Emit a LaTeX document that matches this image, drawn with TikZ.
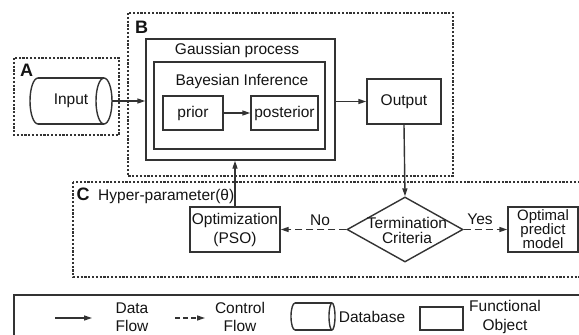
\documentclass[tikz,border=0pt]{standalone}
\usepackage{fontspec}
\setmainfont{Liberation Sans}
\usetikzlibrary{arrows.meta,shapes.geometric,calc}
\definecolor{ln}{HTML}{333333}
\definecolor{tx}{HTML}{141414}
\begin{document}
\begin{tikzpicture}[x=1pt,y=-1pt,
  box/.style={draw=ln,line width=1.4pt,inner sep=0pt,text=tx,font=\fontsize{15.5}{16}\selectfont,align=center},
  frame/.style={draw=ln,line width=2pt,dash pattern=on 2.2pt off 1.6pt},
  flow/.style={draw=ln,line width=1.4pt,-{Triangle[length=8pt,width=5pt]}},
  ctrl/.style={flow,dash pattern=on 7pt off 4pt},
  lab/.style={inner sep=0pt,text=tx,font=\fontsize{15.5}{16}\selectfont,align=center},
  tag/.style={inner sep=0pt,text=tx,font=\fontsize{18}{18}\selectfont\bfseries}]
\clip (0,0) rectangle (579,335);
\fill[white] (0,0) rectangle (579,335);

% frames
\draw[frame] (14,58) rectangle (119,135);
\draw[frame] (128,13) rectangle (453,176);
\draw[frame] (73,182) rectangle (600,277);
\node[tag] (tA) at (26.5,70) {A};
\node[tag] (tB) at (141.5,27.5) {B};
\node[tag] (tC) at (83,194.5) {C};
\node[lab,anchor=west] (hp) at (98,196) {Hyper-parameter(θ)};

% input cylinder
\node[lab,minimum width=82pt,minimum height=46pt] (input) at (71,101) {Input};
\draw[ln,line width=1.4pt] (38,78) -- (104,78) (38,124) -- (104,124);
\draw[ln,line width=1.4pt] (38,78) arc[start angle=270,end angle=90,x radius=8,y radius=23];
\draw[ln,line width=1.4pt] (104,101) ellipse[x radius=8,y radius=23];

% B contents
\node[box,minimum width=189pt,minimum height=121pt] (gp) at (240.5,99.5) {};
\node[lab] (gpt) at (237,50) {Gaussian process};
\node[box,minimum width=171pt,minimum height=87pt] (bi) at (239.5,105.5) {};
\node[lab] (bit) at (242,81) {Bayesian Inference};
\node[box,minimum width=60pt,minimum height=34pt] (prior) at (193,113) {prior};
\node[box,minimum width=67pt,minimum height=34pt] (post) at (284.5,113) {posterior};
\node[box,minimum width=74pt,minimum height=45pt] (out) at (404,101.5) {Output};

% C contents
\node[box,minimum width=90pt,minimum height=45pt,font=\fontsize{15.5}{19}\selectfont] (opt) at (235,229.5) {Optimization\\(PSO)};
\node[draw=ln,line width=1.4pt,diamond,inner sep=0pt,minimum width=116pt,minimum height=65pt] (dia) at (405,229.5) {};
\node[lab,font=\fontsize{15.5}{15.5}\selectfont] (diat) at (407,230.5) {Termination\\Criteria};
\node[box,minimum width=70pt,minimum height=45pt,font=\fontsize{15}{14}\selectfont] (optm) at (543,229.5) {Optimal\\predict\\model};

% connectors
\draw[flow] (input.east) -- (input.east -| gp.west);
\draw[flow] (prior.east) -- (post.west);
\draw[flow] (out.west -| gp.east) -- (out.west);
\draw[flow] (out.south) -- (dia.north);
\draw[flow] (opt.north) -- (opt.north |- gp.south);
\draw[ctrl] (dia.west) -- (opt.east);
\draw[ctrl] (dia.east) -- (optm.west);
\node[lab] (no) at (320,220) {No};
\node[lab] (yes) at (480,219) {Yes};

% legend
\draw[ln,line width=1.4pt] (14,295) rectangle (600,350);
\coordinate (d1) at (55,318);
\coordinate (d2) at (92,318);
\draw[flow] (d1) -- (d2);
\node[lab,font=\fontsize{15.5}{18}\selectfont] (dl) at (132,317) {Data\\Flow};
\coordinate (c1) at (175,318);
\coordinate (c2) at (205,318);
\draw[flow,dash pattern=on 5pt off 3pt] (c1) -- (c2);
\node[lab,font=\fontsize{15.5}{18}\selectfont] (cl) at (240,317) {Control\\Flow};
\node[minimum width=44pt,minimum height=27pt,inner sep=0pt] (db) at (313,316.5) {};
\draw[ln,line width=1.4pt] (295,303) -- (332,303) (295,330) -- (332,330);
\draw[ln,line width=1.4pt] (295,303) arc[start angle=270,end angle=90,x radius=4,y radius=13.5];
\draw[ln,line width=1.4pt] (332,316.5) ellipse[x radius=3,y radius=13.5];
\node[lab] (dbl) at (372,317) {Database};
\node[box,minimum width=43pt,minimum height=23pt] (fo) at (441.5,318.5) {};
\node[lab,font=\fontsize{15.5}{19}\selectfont] (fol) at (505,317) {Functional\\Object};
\end{tikzpicture}
\end{document}
